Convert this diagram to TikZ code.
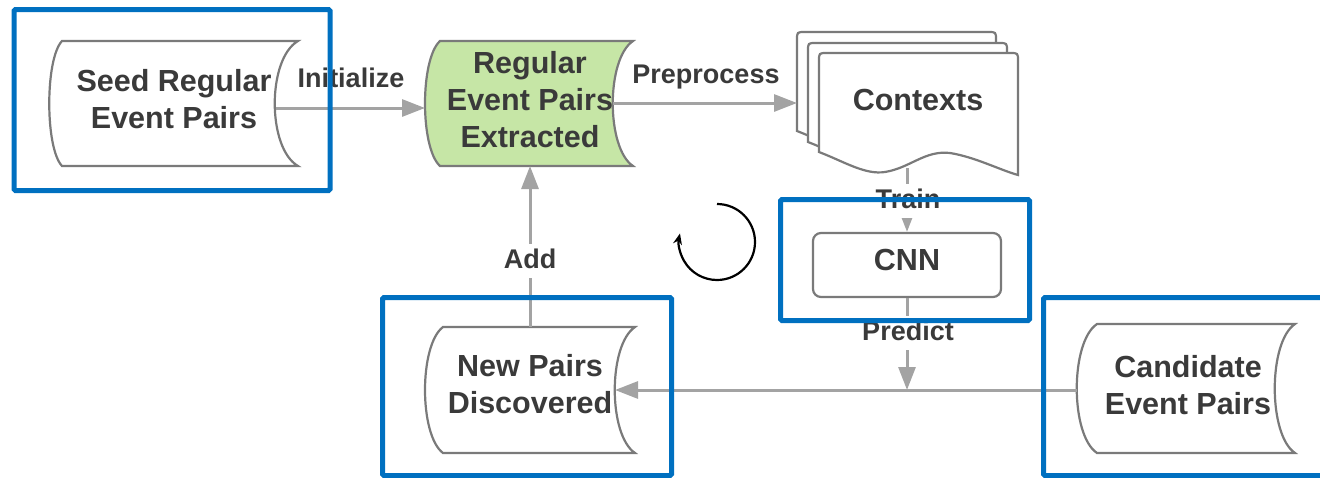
\documentclass[tikz,border=0pt]{standalone}
\usepackage{fontspec}
\setmainfont{Liberation Sans}
\usetikzlibrary{arrows.meta,calc}
\definecolor{txt}{HTML}{3A3A3A}
\definecolor{shp}{HTML}{7A7A7A}
\definecolor{conn}{HTML}{A3A3A3}
\definecolor{hl}{RGB}{0,112,192}
\definecolor{greenfill}{HTML}{C6E6A6}
\newcommand\sdata[7]{%
  \draw[shapeline, fill=#1] (#2,#4) -- (#3,#4)
    .. controls ({#3-#7},{#4+18}) and ({#3-#7},{#5-18}) .. (#3,#5)
    -- (#2,#5)
    .. controls ({#2-#6},{#5-18}) and ({#2-#6},{#4+18}) .. cycle;}
\newcommand\docshape{%
  \draw[shapeline, fill=white] (819,152) -- (819,61) .. controls (819,53) .. (827,53)
    -- (1010,53) .. controls (1018,53) .. (1018,61) -- (1018,175)
    .. controls (1000,170) and (975,157) .. (950,153)
    .. controls (925,150) and (910,168) .. (885,172)
    .. controls (865,175) and (845,162) .. (819,152) -- cycle;}
\begin{document}
\begin{tikzpicture}[x=1pt,y=-1pt,
  shapeline/.style={draw=shp, line width=2.2pt},
  maintext/.style={text=txt, font=\bfseries\fontsize{30.5}{37}\selectfont, align=center, inner sep=0pt},
  lbl/.style={text=txt, font=\bfseries\fontsize{27}{32}\selectfont, inner sep=0pt, anchor=base},
  lblw/.style={lbl, fill=white, inner xsep=3pt, inner ysep=4pt, text depth=6pt},
  conn/.style={draw=conn, line width=3pt, -{Triangle[length=23pt,width=17pt]}},
  hlbox/.style={draw=hl, line width=5pt, rounded corners=1.5pt},
  cycle/.style={draw=black, line width=2.2pt, -{Stealth[length=11pt,width=9pt]}}]
\useasboundingbox (0,0) rectangle (1320,477);
% stored data shapes
\sdata{white}{62}{298}{41}{166}{17}{31}
\sdata{greenfill}{440}{633}{41}{166}{20}{27}
\sdata{white}{443}{635}{327}{453}{24}{27}
\sdata{white}{1097}{1295}{324}{453}{27}{27}
% contexts (multi-document)
\begin{scope}[shift={(-22,-21)}]\docshape\end{scope}
\begin{scope}[shift={(-11,-10)}]\docshape\end{scope}
\docshape
% text nodes
\node[maintext] (seed) at (174,98.6) {Seed Regular\\Event Pairs};
\node[maintext] (reg) at (530,99.1) {Regular\\Event Pairs\\Extracted};
\node[maintext, anchor=base] (ctx) at (918,110) {Contexts};
\node[maintext, draw=shp, line width=2.2pt, rounded corners=8pt, minimum width=188pt, minimum height=64pt, text height=22pt, text depth=12pt] (cnn) at (907,265) {CNN};
\node[maintext] (newp) at (530,384.1) {New Pairs\\Discovered};
\node[maintext] (cand) at (1188,384.6) {Candidate\\Event Pairs};
% connection points
\coordinate (seed-r) at (276,108);
\coordinate (reg-l) at (425,108);
\coordinate (reg-r) at (613,103);
\coordinate (ctx-l) at (797,103);
\coordinate (ctx-b) at (907,168);
\coordinate (reg-b) at (530,166);
\coordinate (newp-t) at (530,327);
\coordinate (newp-r) at (615,390);
\coordinate (cand-l) at (1077,390);
\coordinate (pred-end) at (907,390);
% connectors
\draw[conn] (seed-r) -- (reg-l);
\draw[conn] (reg-r) -- (ctx-l);
\draw[conn] (ctx-b) -- (cnn.north);
\draw[conn] (newp-t) -- (reg-b);
\draw[conn] (cand-l) -- (newp-r);
\draw[conn] (cnn.south) -- (pred-end);
% labels
\node[lbl] (l-init) at (351,87) {Initialize};
\node[lbl] (l-pre) at (706,83) {Preprocess};
\node[lblw] (l-train) at (908,208) {Train};
\node[lblw] (l-add) at (530,268) {Add};
\node[lblw] (l-pred) at (908,340) {Predict};
% cycle arrow
\draw[cycle] (717,204) arc[start angle=-90, end angle=193, radius=38];
% highlight boxes
\draw[hlbox] (14,9.5) rectangle (330,190.5);
\draw[hlbox] (780.5,199.5) rectangle (1029.5,320.5);
\draw[hlbox] (382.5,297.5) rectangle (671.5,475.5);
\draw[hlbox] (1043.5,297.5) rectangle (1335,475.5);
\end{tikzpicture}
\end{document}
